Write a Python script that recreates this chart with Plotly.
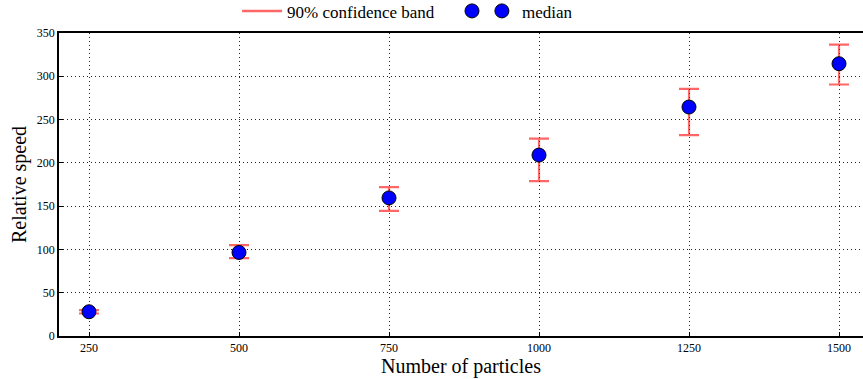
import plotly.graph_objects as go

particles = [250, 500, 750, 1000, 1250, 1500]
median = [28, 96.5, 159.5, 209, 264.5, 314.5]
band_low = [26, 90, 144.5, 179, 232, 290.5]
band_high = [30, 105, 172, 228, 285.5, 336.5]

err_plus = [h - m for h, m in zip(band_high, median)]
err_minus = [m - l for m, l in zip(median, band_low)]

FONT = "Liberation Serif, Times New Roman, serif"
RED = "rgba(255,0,0,0.6)"

fig = go.Figure()

# error bars (confidence band)
fig.add_trace(go.Scatter(
    x=particles, y=median, mode="markers",
    marker=dict(size=1, color="rgba(0,0,0,0)"),
    error_y=dict(type="data", symmetric=False, array=err_plus, arrayminus=err_minus,
                 color=RED, thickness=2.2, width=10),
    showlegend=False, hoverinfo="skip",
))
# legend entry for band
fig.add_trace(go.Scatter(
    x=[None], y=[None], mode="lines", line=dict(color=RED, width=2.5),
    name="90% confidence band", legend="legend",
))
marker_style = dict(size=14, color="#0000ff", line=dict(color="black", width=1))
# second legend marker (matplotlib shows two points)
fig.add_trace(go.Scatter(
    x=[None], y=[None], mode="markers", marker=marker_style, name="",
    legend="legend2",
))
# medians
fig.add_trace(go.Scatter(
    x=particles, y=median, mode="markers",
    marker=marker_style, name="median", legend="legend3",
))

axis_common = dict(
    showgrid=True, gridcolor="#222222", griddash="1px,3px", gridwidth=1,
    showline=True, linecolor="black", linewidth=1.5,
    ticks="inside", ticklen=4, tickcolor="black",
    tickfont=dict(family=FONT, size=12, color="black"),
    zeroline=False,
)

leg_common = dict(orientation="h", xanchor="left", y=1.012, yanchor="bottom",
                  font=dict(family=FONT, size=17, color="black"),
                  bgcolor="rgba(0,0,0,0)")

fig.update_layout(
    width=863, height=379,
    margin=dict(l=59, r=0, t=33, b=43, autoexpand=False),
    paper_bgcolor="white", plot_bgcolor="white",
    font=dict(family=FONT, color="black"),
    xaxis=dict(range=[200, 1540], tickvals=particles, ticktext=[str(p) for p in particles],
               mirror=True,
               title=dict(text="Number of particles", font=dict(family=FONT, size=20), standoff=4),
               **axis_common),
    yaxis=dict(range=[0, 350], dtick=50, mirror=False,
               title=dict(text="Relative speed", font=dict(family=FONT, size=20), standoff=5),
               **axis_common),
    legend=dict(x=0.2215, itemwidth=40, **leg_common),
    legend2=dict(x=0.4888, itemwidth=30, **leg_common),
    legend3=dict(x=0.526, itemwidth=30, **leg_common),
    showlegend=True,
)

fig.write_html("out.html")
